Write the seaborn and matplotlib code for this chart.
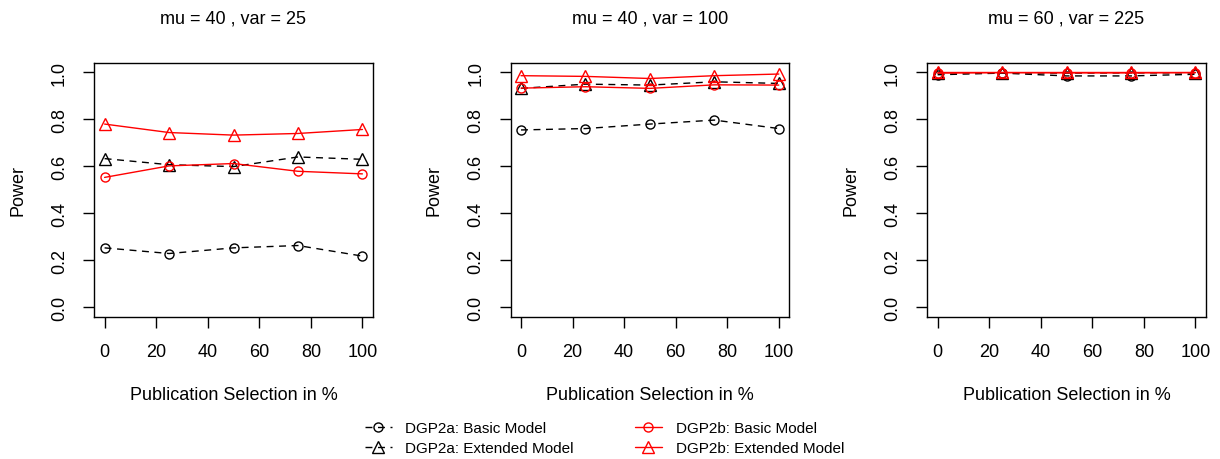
import numpy as np
import pandas as pd
import matplotlib
matplotlib.use("Agg")
import matplotlib.pyplot as plt
import seaborn as sns

# Publication selection levels (x axis)
selection = [0, 25, 50, 75, 100]

# Panel settings
panel_titles = ["mu = 40 , var = 25", "mu = 40 , var = 100", "mu = 60 , var = 225"]

# Power per panel for each data generating process / model
dgp2a_basic = [
    [0.253, 0.229, 0.253, 0.263, 0.218],
    [0.755, 0.761, 0.780, 0.797, 0.761],
    [0.990, 0.997, 0.985, 0.985, 0.992],
]
dgp2a_extended = [
    [0.633, 0.607, 0.599, 0.640, 0.630],
    [0.932, 0.950, 0.946, 0.960, 0.953],
    [0.998, 0.998, 0.997, 0.998, 0.998],
]
dgp2b_basic = [
    [0.553, 0.602, 0.612, 0.579, 0.568],
    [0.933, 0.939, 0.932, 0.947, 0.946],
    [0.997, 0.999, 0.998, 0.998, 0.999],
]
dgp2b_extended = [
    [0.780, 0.744, 0.733, 0.740, 0.757],
    [0.986, 0.983, 0.974, 0.986, 0.993],
    [1.000, 1.000, 1.000, 1.000, 1.000],
]

series_labels = [
    "DGP2a: Basic Model",
    "DGP2a: Extended Model",
    "DGP2b: Basic Model",
    "DGP2b: Extended Model",
]
series_values = [dgp2a_basic, dgp2a_extended, dgp2b_basic, dgp2b_extended]

# Long-form table
rows = []
for label, values in zip(series_labels, series_values):
    for p, panel_vals in enumerate(values):
        for x, y in zip(selection, panel_vals):
            rows.append({"panel": p, "series": label, "selection": x, "power": y})
df = pd.DataFrame(rows)

styles = {
    "DGP2a: Basic Model": dict(color="black", ls=(0, (5, 4)), marker="o", ms=6.5),
    "DGP2a: Extended Model": dict(color="black", ls=(0, (5, 4)), marker="^", ms=8),
    "DGP2b: Basic Model": dict(color="#ff0000", ls="-", marker="o", ms=6.5),
    "DGP2b: Extended Model": dict(color="#ff0000", ls="-", marker="^", ms=8),
}

sns.set_style("white")
plt.rcParams["font.family"] = ["Liberation Sans", "DejaVu Sans"]
plt.rcParams["text.color"] = "black"
plt.rcParams["axes.labelcolor"] = "black"

FS = 13
fig = plt.figure(figsize=(12.2, 4.6), dpi=100)
W, H = 1220, 460
lefts = [94.3, 510.7, 927.3]
ax_w, top, bottom = 278.4, 64.0, 317.7
ax_h = bottom - top

axes = []
for p, lx in enumerate(lefts):
    ax = fig.add_axes([lx / W, 1 - bottom / H, ax_w / W, ax_h / H])
    axes.append(ax)
    sub = df[df["panel"] == p]
    for label in series_labels:
        st = styles[label]
        d = sub[sub["series"] == label]
        sns.lineplot(
            data=d, x="selection", y="power", ax=ax,
            color=st["color"], linestyle=st["ls"], linewidth=1.0,
            marker=st["marker"], markersize=st["ms"],
            markeredgecolor=st["color"], markerfacecolor="none",
            markeredgewidth=1.0, label=label, legend=False,
        )
    ax.set_xlim(-4, 104)
    ax.set_ylim(-0.04, 1.04)
    ax.set_xticks([0, 20, 40, 60, 80, 100])
    ax.set_yticks([0.0, 0.2, 0.4, 0.6, 0.8, 1.0])
    ax.set_yticklabels(["0.0", "0.2", "0.4", "0.6", "0.8", "1.0"],
                       rotation=90, va="center")
    ax.tick_params(axis="both", direction="out", length=8, width=1.0,
                   color="black", labelsize=FS, labelcolor="black",
                   bottom=True, left=True, top=False, right=False)
    ax.tick_params(axis="x", pad=11)
    ax.tick_params(axis="y", pad=11)
    for s in ax.spines.values():
        s.set_visible(True)
        s.set_color("black")
        s.set_linewidth(1.0)
    ax.set_title(panel_titles[p], fontsize=FS, pad=0, y=(bottom - 19) / ax_h,
                 va="center", color="black")
    ax.set_xlabel("Publication Selection in %", fontsize=FS, color="black")
    ax.set_ylabel("Power", fontsize=FS, color="black")
    ax.xaxis.set_label_coords(0.5, (bottom - 396) / ax_h)
    ax.xaxis.label.set_va("center")
    ax.yaxis.set_label_coords((18 - lefts[0]) / ax_w, 0.5)
    ax.yaxis.label.set_va("center")

handles = axes[0].get_lines()[:4]
fig.legend(
    handles, series_labels, loc="upper left",
    bbox_to_anchor=(365 / W, 1 - 422 / H), ncol=2, frameon=False,
    fontsize=11, handlelength=1.75, handletextpad=0.9, columnspacing=4.0,
    labelspacing=0.4, borderpad=0, borderaxespad=0,
)

fig.savefig("out.png", dpi=100)
